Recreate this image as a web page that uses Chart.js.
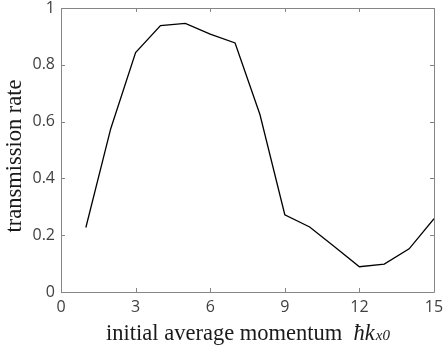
<!DOCTYPE html>
<html>
<head>
<meta charset="utf-8">
<script src="https://cdn.jsdelivr.net/npm/chart.js@4.4.1/dist/chart.umd.min.js"></script>
<style>
html,body{margin:0;padding:0;background:#fff;}
#wrap{width:443px;height:347px;position:relative;}
</style>
</head>
<body>
<div id="wrap"><canvas id="c" width="443" height="347"></canvas></div>
<script>
const momentum = [1, 2, 3, 4, 5, 6, 7, 8, 9, 10, 11, 12, 13, 14, 15];
const transmission = [0.227, 0.575, 0.843, 0.938, 0.946, 0.908, 0.877, 0.625, 0.272, 0.229, 0.159, 0.089, 0.098, 0.152, 0.258];
const xTicks = [0, 3, 6, 9, 12, 15];
const yTicks = [0, 0.2, 0.4, 0.6, 0.8, 1];
const xTitle = 'initial average momentum  ';
const xTitleSym = 'ħk';
const xTitleSub = 'x0';
const yTitle = 'transmission rate';

const AXIS_COLOR = '#868686';
const TICK_FONT = {family: '"Open Sans"', size: 16};

const boxPlugin = {
  id: 'boxTicks',
  afterDatasetsDraw(chart) {
    const ctx = chart.ctx;
    const a = chart.chartArea;
    const xs = chart.scales.x, ys = chart.scales.y;
    ctx.save();
    ctx.strokeStyle = AXIS_COLOR;
    ctx.lineWidth = 1;
    ctx.beginPath();
    ctx.rect(Math.round(a.left) + 0.5, Math.round(a.top) + 0.5, Math.round(a.right - a.left), Math.round(a.bottom - a.top));
    ctx.stroke();
    const L = 4;
    ctx.beginPath();
    xTicks.forEach(v => {
      const px = Math.round(xs.getPixelForValue(v)) + 0.5;
      ctx.moveTo(px, a.bottom); ctx.lineTo(px, a.bottom - L);
      ctx.moveTo(px, a.top); ctx.lineTo(px, a.top + L);
    });
    yTicks.forEach(v => {
      const py = Math.round(ys.getPixelForValue(v)) + 0.5;
      ctx.moveTo(a.left, py); ctx.lineTo(a.left + L, py);
      ctx.moveTo(a.right, py); ctx.lineTo(a.right - L, py);
    });
    ctx.stroke();
    ctx.restore();
  },
  afterDraw(chart) {
    const ctx = chart.ctx;
    const a = chart.chartArea;
    ctx.save();
    ctx.fillStyle = '#1a1a1a';
    ctx.textBaseline = 'alphabetic';
    const f1 = '22.5px "Liberation Serif"';
    const f2 = 'italic 22.5px "Liberation Serif"';
    const f3 = 'italic 15px "Liberation Serif"';
    ctx.font = f1; const w1 = ctx.measureText(xTitle).width;
    ctx.font = f2; const w2 = ctx.measureText(xTitleSym).width;
    ctx.font = f3; const w3 = ctx.measureText(xTitleSub).width;
    const total = w1 + w2 + w3;
    let x0 = (a.left + a.right) / 2 - total / 2;
    const by = 340;
    ctx.textAlign = 'left';
    ctx.font = f1; ctx.fillText(xTitle, x0, by);
    ctx.font = f2; ctx.fillText(xTitleSym, x0 + w1, by);
    ctx.font = f3; ctx.fillText(xTitleSub, x0 + w1 + w2 + 1, by);
    // y title
    ctx.translate(21, (a.top + a.bottom) / 2 + 6);
    ctx.rotate(-Math.PI / 2);
    ctx.textAlign = 'center';
    ctx.font = f1;
    ctx.fillText(yTitle, 0, 0);
    ctx.restore();
  }
};

new Chart(document.getElementById('c'), {
  type: 'line',
  data: {
    datasets: [{
      data: momentum.map((m, i) => ({x: m, y: transmission[i]})),
      borderColor: '#000',
      borderWidth: 1.3,
      pointRadius: 0,
      tension: 0,
      fill: false
    }]
  },
  options: {
    responsive: false,
    animation: false,
    devicePixelRatio: 1,
    layout: {padding: {left: 0, top: 8, right: 9, bottom: 0}},
    plugins: {legend: {display: false}, tooltip: {enabled: false}},
    scales: {
      x: {
        type: 'linear', min: 0, max: 15,
        afterBuildTicks: s => { s.ticks = xTicks.map(v => ({value: v})); },
        afterFit: s => { s.height = 55; s.paddingRight = 0; s.paddingLeft = 0; },
        grid: {display: false, drawTicks: false},
        border: {display: false},
        ticks: {font: TICK_FONT, color: '#404040', padding: 6, maxRotation: 0, autoSkip: false,
                callback: v => String(v)}
      },
      y: {
        type: 'linear', min: 0, max: 1,
        afterBuildTicks: s => { s.ticks = yTicks.map(v => ({value: v})); },
        afterFit: s => { s.width = 61; s.paddingTop = 0; s.paddingBottom = 0; },
        grid: {display: false, drawTicks: false},
        border: {display: false},
        ticks: {font: TICK_FONT, color: '#404040', padding: 6, autoSkip: false,
                callback: v => String(Math.round(v * 10) / 10)}
      }
    }
  },
  plugins: [boxPlugin]
});
</script>
</body>
</html>
